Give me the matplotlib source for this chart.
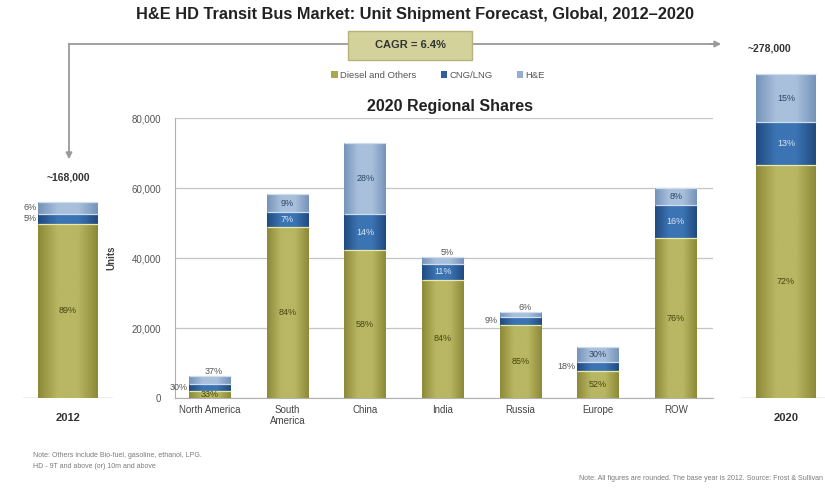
import numpy as np
import matplotlib
matplotlib.use("Agg")
import matplotlib.pyplot as plt
from matplotlib.patches import FancyBboxPatch, Patch
from matplotlib.colors import LinearSegmentedColormap

# ---- data -------------------------------------------------------------
regions = ["North America", "South\nAmerica", "China", "India", "Russia", "Europe", "ROW"]
region_totals = [6200, 58300, 72900, 40300, 24600, 14600, 60000]
diesel_pct = [33, 84, 58, 84, 85, 52, 76]
cng_pct = [30, 7, 14, 11, 9, 18, 16]
he_pct = [37, 9, 28, 5, 6, 30, 8]

years = ["2012", "2020"]
year_totals = [168000, 278000]
year_diesel_pct = [89, 72]
year_cng_pct = [5, 13]
year_he_pct = [6, 15]
year_total_labels = ["~168,000", "~278,000"]

series_names = ["Diesel and Others", "CNG/LNG", "H&E"]
y_ticks = [0, 20000, 40000, 60000, 80000]
cagr_label = "CAGR = 6.4%"
title = "H&E HD Transit Bus Market: Unit Shipment Forecast, Global, 2012\u20132020"
subtitle = "2020 Regional Shares"
note_left = ["Note: Others include Bio-fuel, gasoline, ethanol, LPG.",
             "HD - 9T and above (or) 10m and above"]
note_right = "Note: All figures are rounded. The base year is 2012. Source: Frost & Sullivan"

# ---- styling ----------------------------------------------------------
plt.rcParams["font.family"] = ["Liberation Sans", "DejaVu Sans"]
W, H = 825, 494
# (edge shade, centre shade) for each series
shades = {
    "diesel": ("#8C8A38", "#B9B763"),
    "cng": ("#214B80", "#3C74B4"),
    "he": ("#7593BA", "#A9C0DC"),
}
legend_colors = ["#A9A750", "#2F5F9C", "#93AECF"]
label_colors = {"diesel": "#45450F", "cng": "#DCE5F2", "he": "#2B4668"}
outside_color = "#555555"


def px_rect(x0, y0, x1, y1):
    """Figure rectangle from pixel corners (top-left origin)."""
    return [x0 / W, 1 - y1 / H, (x1 - x0) / W, (y1 - y0) / H]


def shaded_bar(ax, x, bottom, height, width, key):
    edge, centre = shades[key]
    bar = ax.bar(x, height, width, bottom=bottom, color=centre,
                 edgecolor="none", zorder=3)[0]
    cmap = LinearSegmentedColormap.from_list(
        key, [edge, centre, centre, edge])
    grad = np.linspace(0, 1, 128).reshape(1, -1)
    im = ax.imshow(grad, cmap=cmap, aspect="auto", interpolation="bicubic",
                   extent=(x - width / 2, x + width / 2, bottom, bottom + height),
                   zorder=3.5)
    im.set_clip_path(bar)
    # thin highlight along the top of each segment
    hl = "#E9E9A8" if key == "diesel" else "#CFDDEE"
    ax.plot([x - width / 2, x + width / 2], [bottom + height] * 2,
            color=hl, lw=0.9, zorder=4, solid_capstyle="butt")
    return bar


def stacked(ax, x, total, pcts, width, min_inside, top_outside, fs):
    keys = ["diesel", "cng", "he"]
    bottom = 0.0
    for i, (key, p) in enumerate(zip(keys, pcts)):
        h = total * p / 100.0
        shaded_bar(ax, x, bottom, h, width, key)
        mid = bottom + h / 2
        txt = f"{p}%"
        if h >= min_inside or key == "diesel":
            ax.text(x, mid, txt, ha="center", va="center", fontsize=fs,
                    color=label_colors[key], zorder=6)
        elif key == "he" and top_outside:
            ax.text(x + width * 0.1, bottom + h, txt, ha="center", va="bottom",
                    fontsize=fs, color=outside_color, zorder=6)
        else:
            ax.annotate(txt, (x - width / 2, mid), xytext=(-1, 0),
                        textcoords="offset points", ha="right", va="center",
                        fontsize=fs, color=outside_color, zorder=6,
                        annotation_clip=False)
        bottom += h


fig = plt.figure(figsize=(W / 100, H / 100), dpi=100)

# ---- decoration layer in pixel coordinates ----------------------------
deco = fig.add_axes([0, 0, 1, 1], zorder=0)
deco.set_xlim(0, W)
deco.set_ylim(H, 0)
deco.axis("off")
grey = "#9A9A9A"
deco.plot([69, 69], [44, 150], color=grey, lw=1.3)
deco.plot([69, 712], [44, 44], color=grey, lw=1.3)
deco.annotate("", xy=(69, 162), xytext=(69, 148),
              arrowprops=dict(arrowstyle="-|>", color=grey, lw=1.3,
                              mutation_scale=9))
deco.annotate("", xy=(724, 44), xytext=(708, 44),
              arrowprops=dict(arrowstyle="-|>", color=grey, lw=1.3,
                              mutation_scale=9))
box = FancyBboxPatch((348, 31), 124, 29, boxstyle="square,pad=0",
                     facecolor="#D3D29A", edgecolor="#B4B37A", lw=1.0, zorder=2)
deco.add_patch(box)
deco.text(410, 45.5, cagr_label, ha="center", va="center", fontsize=8,
          fontweight="bold", color="#333333", zorder=3)

fig.text(415 / W, 1 - 15 / H, title, ha="center", va="center",
         fontsize=11.8, fontweight="bold", color="#222222")
fig.text(450 / W, 1 - 106 / H, subtitle, ha="center", va="center",
         fontsize=11.5, fontweight="bold", color="#222222")

for i, line in enumerate(note_left):
    fig.text(33 / W, 1 - (455 + 11 * i) / H, line, ha="left", va="center",
             fontsize=5, color="#7A7A7A")
fig.text(823 / W, 1 - 478 / H, note_right, ha="right", va="center",
         fontsize=5, color="#7A7A7A")

handles = [Patch(facecolor=c, edgecolor="none") for c in legend_colors]
fig.legend(handles, series_names, loc="center", ncol=3,
           bbox_to_anchor=(438 / W, 1 - 75 / H), frameon=False, fontsize=6.8,
           handlelength=0.7, handleheight=0.7, handletextpad=0.2,
           columnspacing=2.6, labelcolor="#555555")

# ---- regional shares panel -------------------------------------------
ax = fig.add_axes(px_rect(175, 118, 713, 398), zorder=2)
ax.set_facecolor("none")
xs = np.arange(len(regions))
for i in range(len(regions)):
    stacked(ax, xs[i], region_totals[i],
            [diesel_pct[i], cng_pct[i], he_pct[i]],
            width=0.54, min_inside=3400, top_outside=True, fs=6.5)
ax.set_xlim(-0.45, len(regions) - 1 + 0.48)
ax.set_ylim(0, 80000)
ax.set_yticks(y_ticks)
ax.set_yticklabels([f"{v:,}" for v in y_ticks], fontsize=7, color="#555555")
ax.set_xticks(xs)
ax.set_xticklabels(regions, fontsize=7, color="#444444", linespacing=1.1)
ax.tick_params(axis="both", length=0, pad=5)
ax.tick_params(axis="y", pad=10)
ax.yaxis.grid(True, color="#C4C4C4", lw=0.9, zorder=0)
ax.set_axisbelow(True)
for s in ["top", "right"]:
    ax.spines[s].set_visible(False)
ax.spines["left"].set_color("#B0B0B0")
ax.spines["bottom"].set_color("#B0B0B0")
ax.set_ylabel("Units", fontsize=7, fontweight="bold", color="#444444",
              labelpad=11)

# ---- 2012 / 2020 totals ----------------------------------------------
side_top = 307000  # shared scale for both side bars
label_shift = [0, -12]
for j, (x0, x1) in enumerate([(23, 113), (741, 831)]):
    sx = fig.add_axes(px_rect(x0, 40, x1, 398), zorder=1)
    sx.set_facecolor("none")
    stacked(sx, 0, year_totals[j],
            [year_diesel_pct[j], year_cng_pct[j], year_he_pct[j]],
            width=1.0, min_inside=10500, top_outside=False, fs=6.5)
    sx.set_xlim(-0.75, 0.75)
    sx.set_ylim(0, side_top)
    sx.axhline(0, color="#B0B0B0", lw=1.0, zorder=2)
    sx.annotate(year_total_labels[j], (0, year_totals[j]),
                xytext=(label_shift[j], 18),
                textcoords="offset points", ha="center", va="center",
                fontsize=7.5, fontweight="bold", color="#333333",
                annotation_clip=False)
    sx.set_xticks([0])
    sx.set_xticklabels([years[j]], fontsize=8, fontweight="bold",
                       color="#333333")
    sx.tick_params(axis="x", length=0, pad=11)
    sx.set_yticks([])
    for s in sx.spines.values():
        s.set_visible(False)

fig.savefig("out.png", dpi=100)
